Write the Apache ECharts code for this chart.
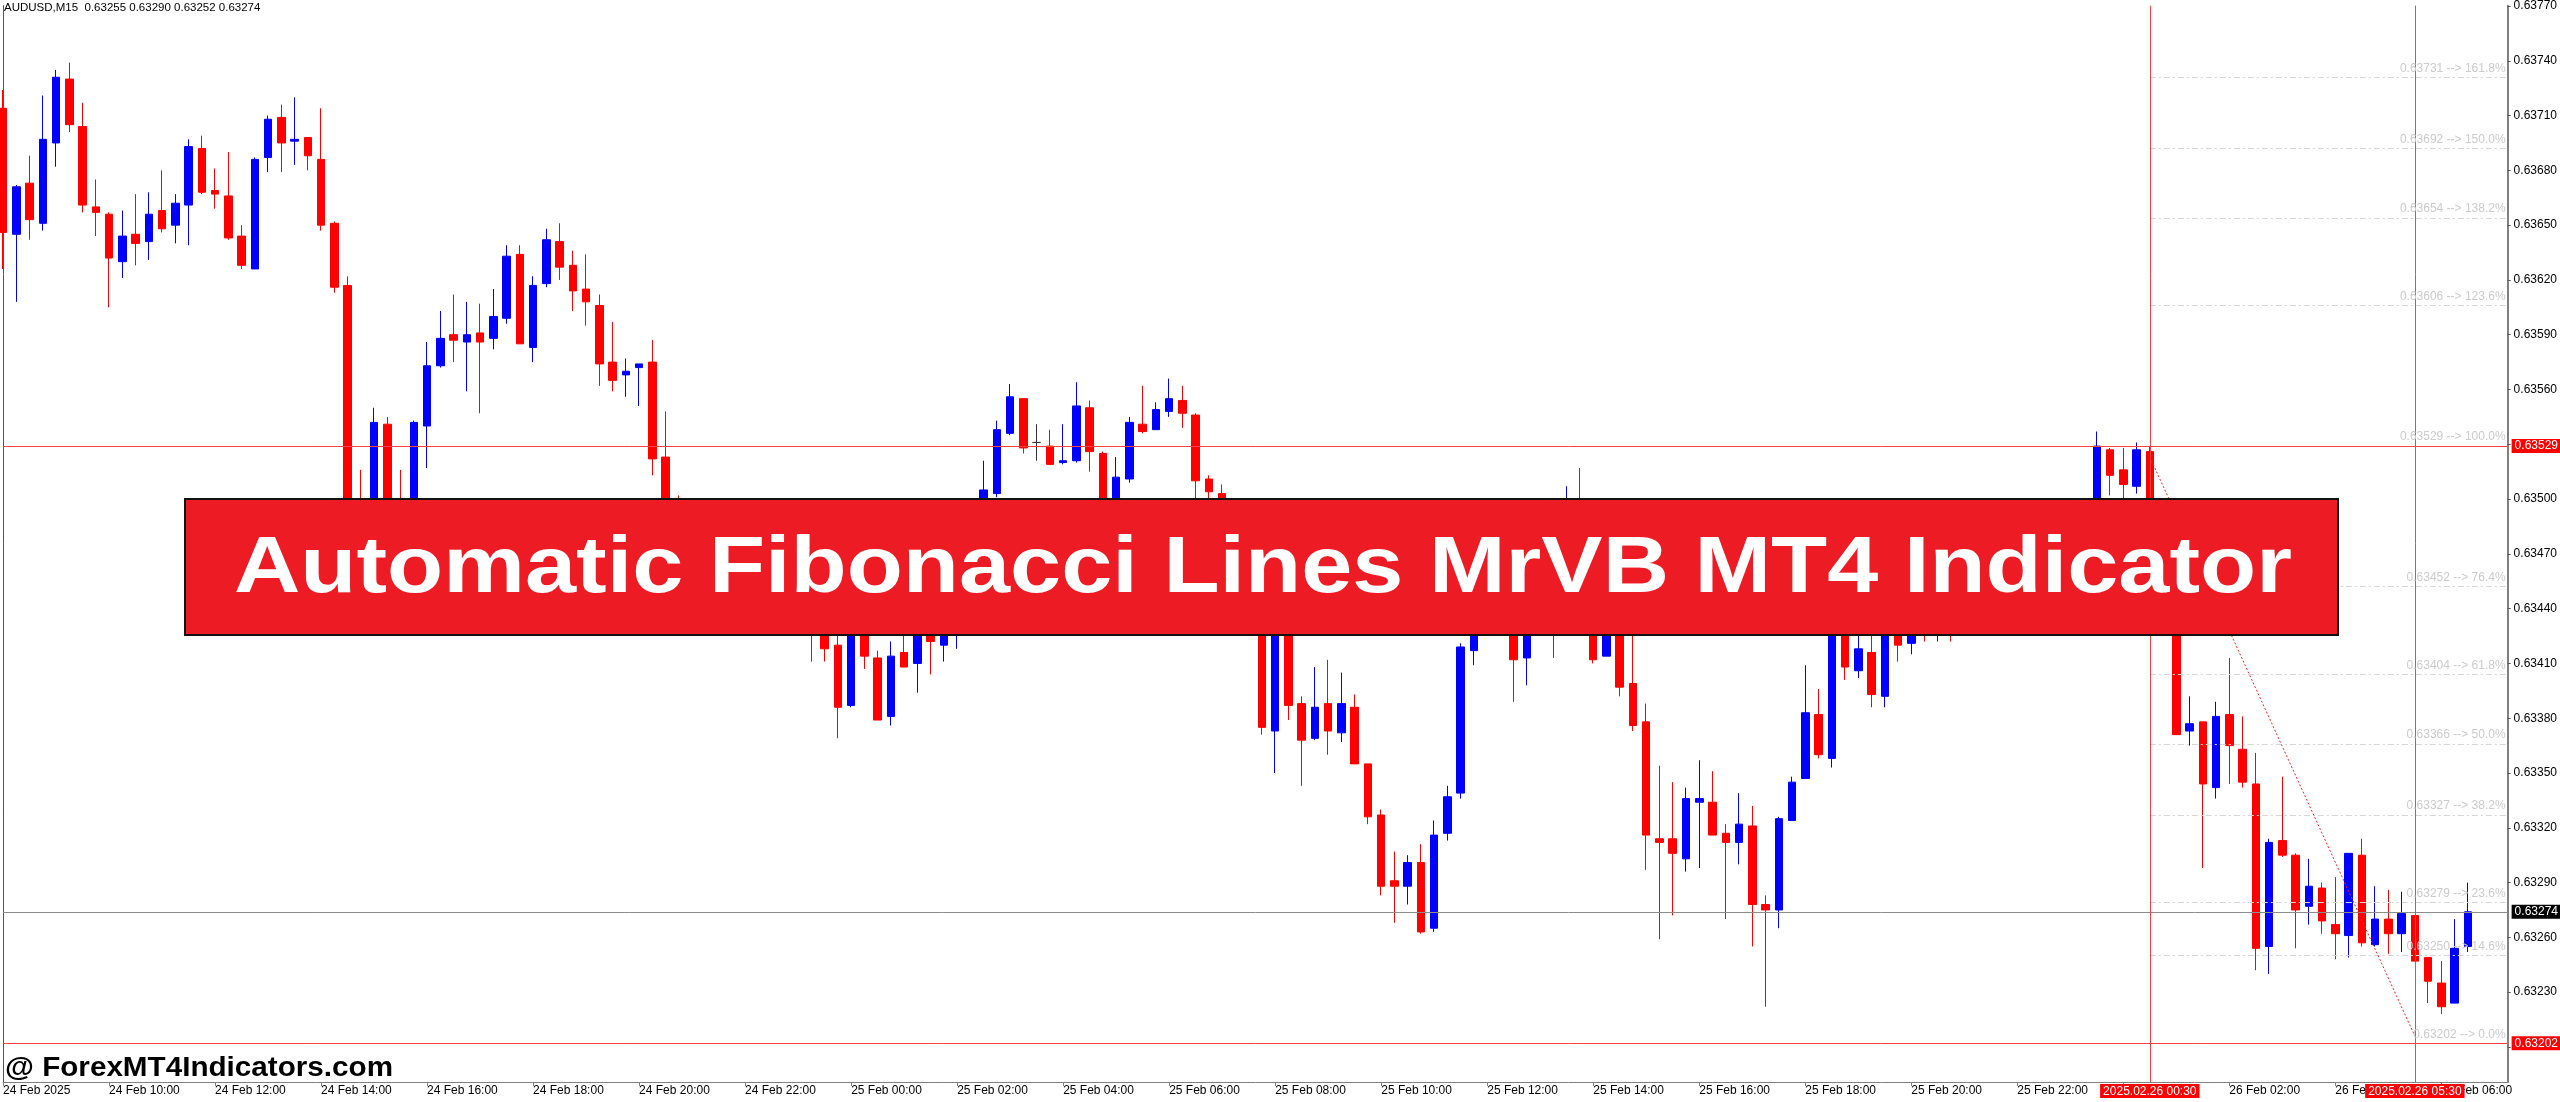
<!DOCTYPE html>
<html>
<head>
<meta charset="utf-8">
<title>AUDUSD M15 - Automatic Fibonacci Lines</title>
<script src="https://cdn.jsdelivr.net/npm/echarts@6/dist/echarts.min.js"></script>
<style>
  html, body { margin: 0; padding: 0; background: #fff; }
  #chart { width: 2560px; height: 1102px; }
</style>
</head>
<body>
<div id="chart"></div>
<script>
const symbol = "AUDUSD,M15";
const firstBar = Date.UTC(2025, 1, 24, 8, 0);
const slotCount = 190;

// prices in 1e-5 units, one entry per M15 bar
const opens = [
  63714,63645,63673,63651,63695,63730,63704,63660,63656,63630,
  63645,63641,63658,63650,63661,63692,63669,63666,63644,63626,
  63687,63709,63696,63698,63686,63651,63617,63480,63462,63541,
  63480,63466,63540,63573,63590,63586,63591,63588,63599,63634,
  63583,63618,63641,63628,63615,63606,63575,63568,63572,63575,
  63523,63482,63470,63462,63475,63458,63450,63462,63448,63455,
  63440,63445,63432,63420,63387,63436,63413,63381,63416,63410,
  63428,63420,63426,63440,63450,63503,63536,63555,63531,63529,
  63520,63521,63550,63525,63492,63511,63541,63538,63548,63554,
  63546,63511,63503,63480,63470,63462,63373,63440,63388,63369,
  63388,63372,63386,63355,63327,63291,63288,63301,63265,63317,
  63339,63417,63445,63460,63450,63413,63448,63462,63450,63480,
  63455,63414,63450,63399,63378,63314,63314,63303,63334,63334,
  63317,63312,63321,63278,63275,63324,63347,63382,63358,63448,
  63406,63416,63392,63436,63421,63440,63432,63440,63436,63445,
  63442,63450,63446,63455,63450,63458,63462,63458,63470,63527,
  63516,63507,63526,63470,63455,63373,63378,63342,63382,63363,
  63344,63255,63313,63305,63277,63287,63267,63261,63305,63256,
  63270,63262,63272,63249,63235,63224,63255
];
const closes = [
  63646,63671,63653,63697,63731,63705,63661,63657,63632,63644,
  63640,63656,63648,63662,63693,63668,63667,63643,63628,63686,
  63708,63695,63697,63688,63650,63616,63470,63462,63542,63478,
  63468,63542,63573,63588,63587,63590,63586,63600,63633,63585,
  63617,63642,63627,63614,63608,63574,63565,63570,63574,63522,
  63480,63470,63462,63475,63458,63450,63462,63448,63455,63440,
  63445,63432,63418,63386,63436,63414,63379,63414,63408,63430,
  63422,63426,63440,63452,63505,63538,63556,63528,63531,63519,
  63521,63551,63526,63495,63512,63542,63537,63549,63555,63547,
  63510,63504,63480,63470,63462,63375,63440,63387,63368,63386,
  63373,63388,63355,63326,63288,63288,63301,63263,63316,63337,
  63419,63445,63460,63452,63412,63448,63462,63450,63480,63455,
  63412,63450,63397,63376,63316,63312,63306,63336,63336,63316,
  63312,63322,63278,63275,63325,63345,63383,63360,63448,63408,
  63418,63393,63436,63420,63440,63432,63440,63436,63445,63442,
  63450,63446,63455,63450,63458,63462,63458,63470,63529,63513,
  63508,63527,63470,63455,63371,63377,63344,63381,63365,63345,
  63254,63312,63305,63275,63288,63269,63262,63306,63257,63270,
  63262,63273,63247,63236,63222,63254,63274
];
const lows = [
  63626,63608,63642,63647,63682,63701,63657,63644,63605,63621,
  63628,63631,63646,63640,63639,63667,63659,63642,63626,63626,
  63679,63679,63683,63680,63647,63613,63460,63448,63455,63470,
  63458,63460,63517,63572,63575,63559,63547,63582,63596,63585,
  63575,63616,63620,63603,63595,63562,63559,63556,63551,63513,
  63470,63460,63448,63455,63450,63440,63445,63440,63438,63432,
  63430,63411,63411,63369,63386,63407,63379,63376,63408,63394,
  63404,63411,63418,63432,63445,63501,63535,63525,63521,63519,
  63519,63520,63515,63488,63485,63509,63536,63538,63545,63539,
  63496,63498,63470,63460,63452,63371,63350,63379,63343,63368,
  63360,63367,63355,63322,63283,63268,63278,63262,63263,63313,
  63336,63409,63440,63445,63389,63398,63440,63413,63445,63448,
  63410,63414,63392,63373,63297,63259,63272,63296,63298,63316,
  63270,63300,63255,63222,63265,63324,63347,63358,63353,63401,
  63402,63386,63386,63411,63415,63422,63422,63422,63430,63434,
  63436,63440,63440,63444,63446,63450,63452,63452,63465,63502,
  63498,63503,63462,63440,63371,63365,63298,63336,63344,63342,
  63242,63240,63304,63254,63267,63262,63248,63249,63255,63255,
  63251,63252,63247,63224,63218,63224,63252
];
const highs = [
  63724,63672,63688,63721,63735,63739,63717,63675,63657,63658,
  63667,63668,63680,63667,63697,63699,63681,63690,63650,63687,
  63710,63716,63720,63698,63714,63652,63622,63516,63550,63545,
  63516,63543,63586,63603,63612,63608,63607,63615,63639,63639,
  63622,63648,63651,63636,63634,63612,63597,63577,63574,63587,
  63548,63502,63485,63488,63482,63468,63472,63470,63466,63460,
  63455,63452,63440,63428,63442,63440,63417,63422,63428,63436,
  63434,63432,63448,63460,63521,63543,63563,63555,63541,63538,
  63541,63564,63554,63526,63523,63545,63562,63553,63566,63562,
  63547,63513,63508,63488,63478,63468,63446,63444,63392,63408,
  63412,63405,63393,63355,63330,63307,63305,63311,63324,63343,
  63421,63452,63468,63470,63458,63455,63470,63470,63507,63517,
  63462,63458,63456,63430,63388,63354,63345,63342,63357,63351,
  63322,63339,63332,63283,63326,63348,63409,63396,63455,63452,
  63430,63426,63442,63444,63446,63448,63446,63448,63452,63452,
  63458,63456,63462,63460,63466,63470,63472,63478,63537,63528,
  63528,63531,63529,63478,63460,63392,63378,63389,63413,63381,
  63361,63314,63348,63306,63303,63290,63293,63306,63314,63288,
  63286,63285,63272,63249,63247,63270,63290
];

// one label every 8 bars (2 hours)
const xTickLabels = [
  "24 Feb 2025", "24 Feb 10:00", "24 Feb 12:00", "24 Feb 14:00", "24 Feb 16:00",
  "24 Feb 18:00", "24 Feb 20:00", "24 Feb 22:00", "25 Feb 00:00", "25 Feb 02:00",
  "25 Feb 04:00", "25 Feb 06:00", "25 Feb 08:00", "25 Feb 10:00", "25 Feb 12:00",
  "25 Feb 14:00", "25 Feb 16:00", "25 Feb 18:00", "25 Feb 20:00", "25 Feb 22:00",
  "26 Feb 00:00", "26 Feb 02:00", "26 Feb 04:00", "26 Feb 06:00"
];
const yTickValues = [
  0.63200, 0.63230, 0.63260, 0.63290, 0.63320, 0.63350, 0.63380, 0.63410, 0.63440, 0.63470,
  0.63500, 0.63530, 0.63560, 0.63590, 0.63620, 0.63650, 0.63680, 0.63710, 0.63740, 0.63770
];
const yLabelValues = yTickValues.filter(v => v !== 0.63200 && v !== 0.63530);
const yMin = 0.631808;
const yMax = 0.637702;

// fibonacci levels drawn by the indicator
const fibLevels = [0.63731, 0.63692, 0.63654, 0.63606, 0.63529, 0.63452, 0.63404, 0.63366, 0.63327, 0.63279, 0.63250, 0.63202];
const fibPercents = ["161.8%", "150.0%", "138.2%", "123.6%", "100.0%", "76.4%", "61.8%", "50.0%", "38.2%", "23.6%", "14.6%", "0.0%"];
const fibTimes = ["2025.02.26 00:30", "2025.02.26 05:30"];
const fibDiagonal = [0.63523, 0.63206];

const bannerText = "Automatic Fibonacci Lines MrVB MT4 Indicator";
const watermarkText = "@ ForexMT4Indicators.com";

const toPrice = v => v / 100000;
const pad = n => String(n).padStart(2, "0");
const categories = [];
for (let i = 0; i < slotCount; i++) {
  const d = new Date(firstBar + i * 15 * 60000);
  categories.push(d.getUTCFullYear() + "." + pad(d.getUTCMonth() + 1) + "." + pad(d.getUTCDate()) +
    " " + pad(d.getUTCHours()) + ":" + pad(d.getUTCMinutes()));
}
const candles = opens.map((o, i) => [o, closes[i], lows[i], highs[i]].map(toPrice));
const last = candles[candles.length - 1];
const bidPrice = last[1];
const header = symbol + "  " + [last[0], last[3], last[2], last[1]].map(v => v.toFixed(5)).join(" ");

const lastSlot = categories[slotCount - 1];
const fibStart = fibTimes[0];

// stretch factor so a text spans a wanted width
const measure = (text, font) => {
  const ctx = document.createElement("canvas").getContext("2d");
  ctx.font = font;
  return ctx.measureText(text).width;
};
const bannerFont = "bold 80px 'Liberation Sans'";
const bannerScale = 2058 / measure(bannerText, bannerFont);
const markFont = "bold 28px 'Liberation Sans'";
const markScale = 388 / measure(watermarkText, markFont);

const fibLines = fibLevels.map((lvl, i) => [
  {
    coord: [fibStart, lvl],
    label: { formatter: lvl.toFixed(5) + " --> " + fibPercents[i] }
  },
  { coord: [lastSlot, lvl] }
]);

const priceTag = (price, bg, lineColor) => ({
  yAxis: price,
  lineStyle: { color: lineColor },
  label: {
    show: true, position: "end", distance: 4,
    formatter: price.toFixed(5), color: "#fff", backgroundColor: bg,
    padding: [1, 3, 0, 3], lineHeight: 13, fontSize: 12
  }
});
const timeTag = (t) => ({
  xAxis: t,
  lineStyle: { color: "#ff4040" },
  label: {
    show: true, position: "start", distance: 2,
    formatter: t, color: "#fff", backgroundColor: "#ff0000",
    padding: [1, 3, 0, 3], lineHeight: 13, fontSize: 12
  }
});

const chart = echarts.init(document.getElementById("chart"));

chart.setOption({
  animation: false,
  backgroundColor: "#ffffff",
  textStyle: { fontFamily: "Liberation Sans, Arial, sans-serif" },
  grid: { left: 1, right: 51, top: 0, bottom: 20 },
  xAxis: {
    type: "category",
    data: categories,
    boundaryGap: false,
    axisLine: { lineStyle: { color: "#808080", width: 1 } },
    axisTick: { interval: 7, length: 4, lineStyle: { color: "#808080" } },
    axisLabel: {
      interval: 7, align: "left", margin: 3, fontSize: 12, color: "#000",
      formatter: (v, i) => xTickLabels[i / 8] || ""
    },
    splitLine: { show: false }
  },
  yAxis: [
    {
      type: "value",
      position: "right",
      min: yMin,
      max: yMax,
      axisLine: { show: true, lineStyle: { color: "#808080", width: 2 } },
      axisTick: { show: true, length: 3, customValues: yTickValues, lineStyle: { color: "#555" } },
      axisLabel: {
        margin: 6, fontSize: 12, color: "#000",
        customValues: yLabelValues,
        formatter: v => v.toFixed(5)
      },
      splitLine: { show: false }
    },
    {
      type: "value",
      position: "left",
      min: yMin,
      max: yMax,
      axisLine: { show: true, lineStyle: { color: "#555", width: 1 } },
      axisTick: { show: false },
      axisLabel: { show: false },
      splitLine: { show: false }
    }
  ],
  series: [
    {
      type: "line",
      data: [],
      z: 1,
      clip: false,
      silent: true,
      markLine: {
        symbol: "none",
        silent: true,
        precision: 5,
        lineStyle: { color: "#d6d6d6", width: 1, type: [6, 3, 2, 3] },
        label: {
          show: true, position: "insideEndTop", distance: [2, 3],
          color: "#cbcbcb", fontSize: 12
        },
        data: fibLines
      }
    },
    {
      type: "candlestick",
      data: candles,
      z: 2,
      barWidth: 8,
      itemStyle: {
        color: "#0000ff",
        color0: "#ff0000",
        borderColor: "#0000ff",
        borderColor0: "#ff0000",
        borderColorDoji: "#333333",
        borderWidth: 1
      }
    },
    {
      type: "line",
      data: [],
      z: 3,
      clip: false,
      silent: true,
      markLine: {
        symbol: "none",
        silent: true,
        precision: 5,
        lineStyle: { width: 1, type: "solid" },
        data: [
          priceTag(fibLevels[4], "#ff0000", "#ff4040"),
          priceTag(fibLevels[11], "#ff0000", "#ff4040"),
          priceTag(bidPrice, "#000000", "#8c8c8c"),
          timeTag(fibTimes[0]),
          timeTag(fibTimes[1]),
          [
            { coord: [fibTimes[0], fibDiagonal[0]], lineStyle: { color: "#ff2020", type: [2, 2], width: 1 }, label: { show: false } },
            { coord: [fibTimes[1], fibDiagonal[1]] }
          ]
        ]
      }
    }
  ],
  graphic: [
    {
      type: "text", x: 4, y: 2, z: 100,
      style: { text: header, font: "11.5px 'Liberation Sans'", fill: "#000" }
    },
    {
      type: "rect", z: 100,
      shape: { x: 185, y: 499, width: 2153, height: 136 },
      style: { fill: "#ed1c24", stroke: "#111", lineWidth: 2 }
    },
    {
      type: "text", x: 1263, y: 570, z: 101, scaleX: bannerScale,
      style: {
        text: bannerText, font: bannerFont, fill: "#fff",
        align: "center", verticalAlign: "middle"
      }
    },
    {
      type: "text", x: 5, y: 1068, z: 101, scaleX: markScale,
      style: {
        text: watermarkText, font: markFont, fill: "#000",
        verticalAlign: "middle"
      }
    }
  ]
});
</script>
</body>
</html>
